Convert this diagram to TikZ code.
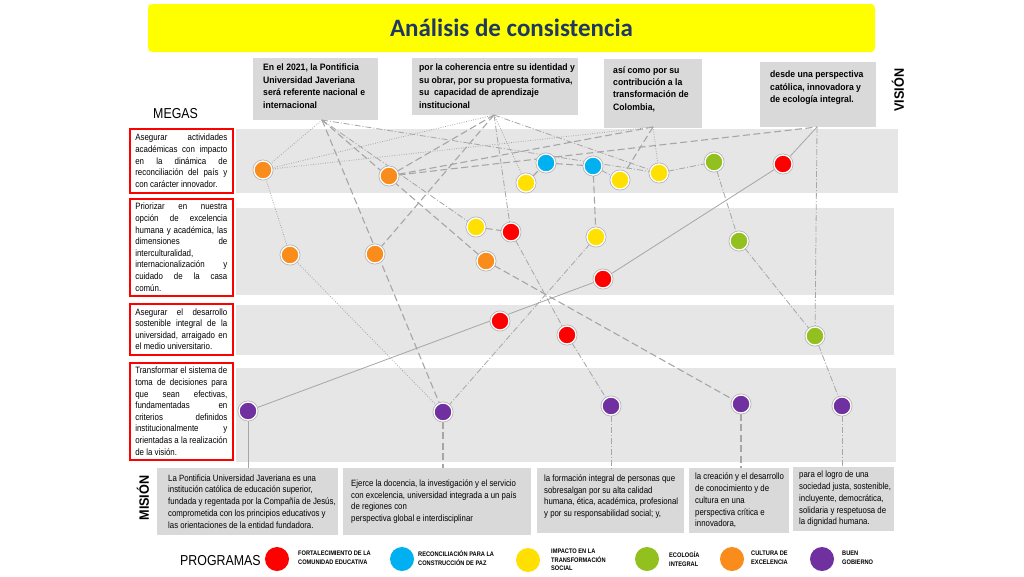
\documentclass[tikz,border=0pt]{standalone}
\usepackage{fontspec}
\setmainfont{Liberation Sans}
\newfontfamily\nar[FakeStretch=0.86]{Liberation Sans}
\newfontfamily\narb[FakeStretch=0.93]{Liberation Sans}
\newfontfamily\ttlfont{Carlito}
\usetikzlibrary{calc}
\pgfdeclarelayer{back}
\pgfdeclarelayer{lines}
\pgfsetlayers{back,lines,main}
\definecolor{cred}{HTML}{FF0000}
\definecolor{cblue}{HTML}{00B0F0}
\definecolor{cyel}{HTML}{FFE000}
\definecolor{cgreen}{HTML}{92C01F}
\definecolor{corange}{HTML}{F98C1A}
\definecolor{cpurple}{HTML}{7030A0}
\definecolor{boxgray}{HTML}{D9D9D9}
\definecolor{bandgray}{HTML}{E6E6E6}
\definecolor{linegray}{HTML}{A6A6A6}
\definecolor{ttlblue}{HTML}{1F3864}
\definecolor{titleyel}{HTML}{FFFF00}
\newcommand\mjust[1]{\makebox[92pt][s]{#1}}
\newcommand\mlast[1]{\makebox[92pt][l]{#1}}
\tikzset{
  graybox/.style={fill=boxgray, draw=none, inner sep=0, outer sep=0, anchor=north west},
  megabox/.style={draw=cred, line width=1.6pt, fill=white, anchor=north west, inner sep=0,
     minimum width=103pt, align=left, font=\nar\fontsize{9.2}{11.6}\selectfont},
  vtext/.style={anchor=north west, inner sep=0, align=left, font=\narb\bfseries\fontsize{9.3}{12.4}\selectfont},
  mtext/.style={anchor=west, inner sep=0, align=left, font=\nar\fontsize{9.1}{11.8}\selectfont},
  ltext/.style={anchor=west, inner sep=0, align=left, font=\nar\bfseries\fontsize{6.6}{8.6}\selectfont},
  bigtext/.style={inner sep=0, font=\nar\fontsize{14.4}{16}\selectfont},
  sidetext/.style={inner sep=0, rotate=90, font=\narb\bfseries\fontsize{13.6}{16}\selectfont},
  dot/.style={circle, fill=#1, draw=white, line width=1.3pt, minimum size=18pt, inner sep=0,
     preaction={draw=black!30, line width=2.8pt}},
  ldot/.style={circle, fill=#1, draw=none, minimum size=24pt, inner sep=0},
  conn/.style={draw=linegray, line width=0.8pt},
  csol/.style={conn},
  cdot/.style={conn, dash pattern=on 0.8pt off 1.6pt},
  cdash/.style={conn, line width=1.1pt, dash pattern=on 7pt off 3.5pt},
  cdd/.style={conn, dash pattern=on 6pt off 2pt on 1pt off 2pt},
}
\begin{document}
\begin{tikzpicture}[x=1pt,y=-1pt]
\useasboundingbox (0,0) rectangle (1024,576);

\begin{pgfonlayer}{back}
\fill[white] (0,0) rectangle (1024,576);
% title
\node[fill=titleyel, rounded corners=4pt, minimum width=727pt, minimum height=48pt, inner sep=0] (title) at (511.5,28) {};
% bands
\fill[bandgray] (236,129) rectangle (898,193);
\fill[bandgray] (236,208) rectangle (894,295);
\fill[bandgray] (236,305) rectangle (894,355);
\fill[bandgray] (236,368) rectangle (896,462);
% vision boxes
\node[graybox, minimum width=125pt, minimum height=62pt] (v1) at (253,58) {};
\node[graybox, minimum width=166pt, minimum height=57pt] (v2) at (412,58) {};
\node[graybox, minimum width=98pt, minimum height=69pt] (v3) at (604,59) {};
\node[graybox, minimum width=116pt, minimum height=65pt] (v4) at (760,62) {};
% mission boxes
\node[graybox, minimum width=181pt, minimum height=67pt] (msn1) at (157,468) {};
\node[graybox, minimum width=188pt, minimum height=67pt] (msn2) at (343,468) {};
\node[graybox, minimum width=147pt, minimum height=65pt] (msn3) at (537,468) {};
\node[graybox, minimum width=100pt, minimum height=65pt] (msn4) at (689,468) {};
\node[graybox, minimum width=101pt, minimum height=64pt] (msn5) at (793,467) {};
\end{pgfonlayer}

% title text
\node[text=ttlblue, font=\ttlfont\bfseries\fontsize{25}{30}\selectfont, inner sep=0] (ttl) at (title.center) {Análisis de consistencia};

% vision texts
\node[vtext] (v1t) at (263,64) {En el 2021, la Pontificia\\Universidad Javeriana\\será referente nacional e\\internacional};
\node[vtext] (v2t) at (419,64) {por la coherencia entre su identidad y\\su obrar, por su propuesta formativa,\\su \ capacidad de aprendizaje\\institucional};
\node[vtext] (v3t) at (613,66) {así como por su\\contribución a la\\transformación de\\Colombia,};
\node[vtext] (v4t) at (770,71) {desde una perspectiva\\católica, innovadora y\\de ecología integral.};
\node[sidetext] (vis) at (898,90) {VISIÓN};

% megas
\node[bigtext, anchor=west] (megas) at (153,114) {MEGAS};
\node[megabox, minimum height=64pt] (m1) at (129,128) {\mjust{Asegurar actividades}\\\mjust{académicas con impacto}\\\mjust{en la dinámica de}\\\mjust{reconciliación del país y}\\\mlast{con carácter innovador.}};
\node[megabox, minimum height=97pt] (m2) at (129,198) {\mjust{Priorizar en nuestra}\\\mjust{opción de excelencia}\\\mjust{humana y académica, las}\\\mjust{dimensiones de}\\\mlast{interculturalidad,}\\\mjust{internacionalización y}\\\mjust{cuidado de la casa}\\\mlast{común.}};
\node[megabox, minimum height=51pt] (m3) at (129,303) {\mjust{Asegurar el desarrollo}\\\mjust{sostenible integral de la}\\\mjust{universidad, arraigado en}\\\mlast{el medio universitario.}};
\node[megabox, minimum height=97pt] (m4) at (129,362) {\mjust{Transformar el sistema de}\\\mjust{toma de decisiones para}\\\mjust{que sean efectivas,}\\\mjust{fundamentadas en}\\\mjust{criterios definidos}\\\mjust{institucionalmente y}\\\mjust{orientadas a la realización}\\\mlast{de la visión.}};

% mission texts
\node[sidetext] (mis) at (143,498) {MISIÓN};
\node[mtext] (t1) at ([xshift=11pt]msn1.west) {La Pontificia Universidad Javeriana es una\\institución católica de educación superior,\\fundada y regentada por la Compañía de Jesús,\\comprometida con los principios educativos y\\las orientaciones de la entidad fundadora.};
\node[mtext] (t2) at ([xshift=8pt]msn2.west) {Ejerce la docencia, la investigación y el servicio\\con excelencia, universidad integrada a un país\\de regiones con\\perspectiva global e interdisciplinar};
\node[mtext] (t3) at ([xshift=7pt,yshift=4pt]msn3.west) {la formación integral de personas que\\sobresalgan por su alta calidad\\humana, ética, académica, profesional\\y por su responsabilidad social; y,};
\node[mtext] (t4) at ([xshift=6pt]msn4.west) {la creación y el desarrollo\\de conocimiento y de\\cultura en una\\perspectiva crítica e\\innovadora,};
\node[mtext] (t5) at ([xshift=6pt]msn5.west) {para el logro de una\\sociedad justa, sostenible,\\incluyente, democrática,\\solidaria y respetuosa de\\la dignidad humana.};

% hubs
\coordinate (h1) at (322,120);
\coordinate (h2) at (494,115);
\coordinate (h3) at (653,127);
\coordinate (h4) at (817,127);

% circles
\node[dot=corange] (o1) at (263,170) {};
\node[dot=corange] (o2) at (389,176) {};
\node[dot=cblue] (bl1) at (546,163) {};
\node[dot=cyel] (y1) at (526,183) {};
\node[dot=cblue] (bl2) at (593,166) {};
\node[dot=cyel] (y2) at (620,180) {};
\node[dot=cyel] (y3) at (659,173) {};
\node[dot=cgreen] (g1) at (714,162) {};
\node[dot=cred] (r1) at (783,164) {};
\node[dot=corange] (o3) at (290,255) {};
\node[dot=corange] (o4) at (375,254) {};
\node[dot=cyel] (y4) at (476,227) {};
\node[dot=cred] (r2) at (511,232) {};
\node[dot=corange] (o5) at (486,261) {};
\node[dot=cyel] (y5) at (596,237) {};
\node[dot=cred] (r3) at (603,279) {};
\node[dot=cgreen] (g2) at (739,241) {};
\node[dot=cred] (r4) at (500,321) {};
\node[dot=cred] (r5) at (567,335) {};
\node[dot=cgreen] (g3) at (815,336) {};
\node[dot=cpurple] (p1) at (248,411) {};
\node[dot=cpurple] (p2) at (443,412) {};
\node[dot=cpurple] (p3) at (611,406) {};
\node[dot=cpurple] (p4) at (741,404) {};
\node[dot=cpurple] (p5) at (842,406) {};

\begin{pgfonlayer}{lines}
\draw[csol] (h4) -- (r1);
\draw[csol] (r1) -- (r3);
\draw[csol] (r3) -- (p1);
\draw[csol] (p1) -- (p1 |- msn1.north);
\draw[cdot] (h1) -- (o1);
\draw[cdot] (o1) -- (h2);
\draw[cdot] (o1) -- (h3);
\draw[cdot] (o1) -- (o3);
\draw[cdot] (o3) -- (p2);
\draw[cdot] (h3) -- (y3);
\draw[cdot] (h2) -- (y1);
\draw[cdash] (h1) -- (p2);
\draw[cdash] (h1) -- (o5);
\draw[cdash] (o5) -- (p4);
\draw[cdash] (o2) -- (h2);
\draw[cdash] (o2) -- (h3);
\draw[cdash] (o2) -- (h4);
\draw[cdash] (h2) -- (o4);
\draw[cdash] (h3) -- (y2);
\draw[cdash] (bl2) -- (y5);
\draw[cdash] (y4) -- (r2);
\draw[cdash] (y1) -- (bl1);
\draw[cdash] (bl1) -- (bl2);
\draw[cdash] (p2) -- (p2 |- msn2.north);
\draw[cdash] (p4) -- (p4 |- msn4.north);
\draw[cdd] (h1) -- (y4);
\draw[cdd] (h1) -- (y3);
\draw[cdd] (h2) -- (r2);
\draw[cdd] (r2) -- (r5);
\draw[cdd] (r5) -- (p3);
\draw[cdd] (h2) -- (y3);
\draw[cdd] (y3) -- (g1);
\draw[cdd] (g1) -- (g2);
\draw[cdd] (g2) -- (g3);
\draw[cdd] (g3) -- (p5);
\draw[cdd] (h4) -- (g3);
\draw[cdd] (y5) -- (p2);
\draw[cdd] (bl2) -- (y2);
\draw[cdd] (p3) -- (p3 |- msn3.north);
\draw[cdd] (p5) -- (p5 |- msn5.north);
\end{pgfonlayer}

% legend
\node[bigtext, anchor=west] (prog) at (180,561) {PROGRAMAS};
\node[ldot=cred] (lr) at (277,559) {};
\node[ltext] (lrt) at (298,558) {FORTALECIMIENTO DE LA\\COMUNIDAD EDUCATIVA};
\node[ldot=cblue] (lb) at (402,559) {};
\node[ltext] (lbt) at (418,558) {RECONCILIACIÓN PARA LA\\CONSTRUCCIÓN DE PAZ};
\node[ldot=cyel] (ly) at (528,560) {};
\node[ltext] (lyt) at (551,560) {IMPACTO EN LA\\TRANSFORMACIÓN\\SOCIAL};
\node[ldot=cgreen] (lg) at (647,559) {};
\node[ltext] (lgt) at (669,559) {ECOLOGÍA\\INTEGRAL};
\node[ldot=corange] (lo) at (732,559) {};
\node[ltext] (lot) at (751,558) {CULTURA DE\\EXCELENCIA};
\node[ldot=cpurple] (lp) at (822,559) {};
\node[ltext] (lpt) at (842,558) {BUEN\\GOBIERNO};
\end{tikzpicture}
\end{document}
